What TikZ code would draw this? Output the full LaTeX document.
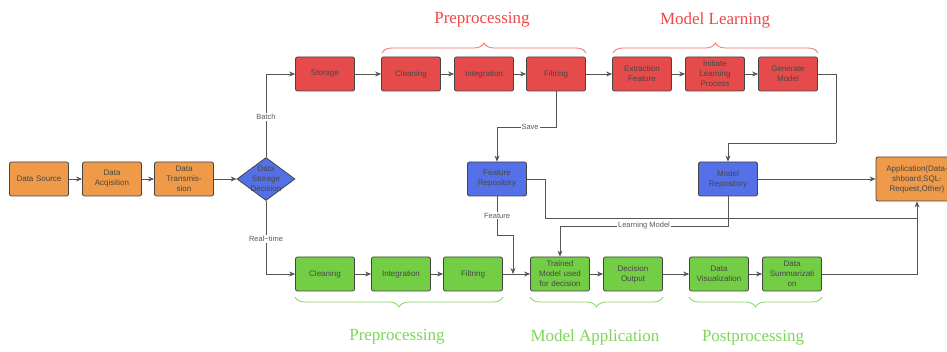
\documentclass[tikz,border=0pt]{standalone}
\usepackage{fontspec}
\setmainfont{Liberation Sans}
\newfontfamily\titlefont{Liberation Serif}
\usetikzlibrary{shapes.geometric,arrows.meta,decorations.pathreplacing}
\definecolor{orangebox}{HTML}{EE9A48}
\definecolor{redbox}{HTML}{E54B4B}
\definecolor{bluebox}{HTML}{5470E6}
\definecolor{greenbox}{HTML}{73CD45}
\definecolor{redtitle}{HTML}{F04848}
\definecolor{greentitle}{HTML}{80D65A}
\definecolor{linegray}{HTML}{555555}
\definecolor{boxline}{HTML}{454545}
\tikzset{
  box/.style={rectangle, rounded corners=2pt, draw=boxline, line width=0.8pt,
    minimum width=59pt, minimum height=34pt, text width=56pt, align=center,
    inner sep=0pt, font=\fontsize{8}{10}\selectfont, text=black!72},
  obox/.style={box, fill=orangebox},
  rbox/.style={box, fill=redbox},
  bbox/.style={box, fill=bluebox},
  gbox/.style={box, fill=greenbox},
  arr/.style={draw=linegray, line width=0.8pt, -{Stealth[length=6pt,width=5pt]}},
  conn/.style={draw=linegray, line width=0.8pt},
  lbl/.style={fill=white, inner sep=1pt, font=\fontsize{7.5}{9}\selectfont, text=black!65},
  ttl/.style={font=\titlefont\fontsize{17}{20}\selectfont},
  rbrace/.style={draw=redtitle!80, line width=0.8pt, decorate, decoration={brace, amplitude=10pt}},
  gbrace/.style={draw=greentitle, line width=0.8pt, decorate, decoration={brace, amplitude=10pt, mirror}},
}
\begin{document}
\begin{tikzpicture}[x=1pt, y=-1pt]
\clip (0,0) rectangle (947,352);
\fill[white] (0,0) rectangle (947,352);
% left chain
\node[obox] (src) at (39,179) {Data Source};
\node[obox] (acq) at (112,179) {Data\\Acqisition};
\node[obox] (trans) at (184,179) {Data\\Transmis-\\sion};
\node[diamond, draw=boxline, line width=0.8pt, fill=bluebox, aspect=1.35, inner sep=0pt,
  minimum width=58pt, minimum height=43pt] (dec) at (266,179) {};
\node[font=\fontsize{8}{10}\selectfont, text=black!72, align=center] (dect) at (266,179) {Data\\Storage\\Decision};
% top row
\node[rbox] (stor) at (325,74) {Storage};
\node[rbox] (tclean) at (411,74) {Cleaning};
\node[rbox] (tint) at (484,74) {Integration};
\node[rbox] (tfilt) at (556,74) {Filtring};
\node[rbox] (ext) at (642,74) {Extraction\\Feature};
\node[rbox] (init) at (715,74) {Initiate\\Learning\\Process};
\node[rbox] (gen) at (788,74) {Generate\\Model};
% repositories and application
\node[bbox] (frep) at (497,179) {Feature\\Repository};
\node[bbox] (mrep) at (728,179) {Model\\Repository};
\node[obox, minimum width=82pt, text width=80pt, minimum height=44pt] (app) at (917,179) {Application(Data-\\shboard,SQL-\\Request,Other)};
% bottom row
\node[gbox] (bclean) at (325,274) {Cleaning};
\node[gbox] (bint) at (401,274) {Integration};
\node[gbox] (bfilt) at (473,274) {Filtring};
\node[gbox] (tmod) at (560,274) {Trained\\Model used\\for decision};
\node[gbox] (dout) at (633,274) {Decision\\Output};
\node[gbox] (vis) at (719,274) {Data\\Visualization};
\node[gbox] (summ) at (792,274) {Data\\Summarizati\\on};
% titles
\node[ttl, text=redtitle] (t1) at (482,20) {Preprocessing};
\node[ttl, text=redtitle] (t2) at (715,20) {Model Learning};
\node[ttl, text=greentitle] (t3) at (397,337) {Preprocessing};
\node[ttl, text=greentitle] (t4) at (595,337) {Model Application};
\node[ttl, text=greentitle] (t5) at (753,338) {Postprocessing};
% braces
\draw[rbrace] (382,53) -- (586,53);
\draw[rbrace] (613,53) -- (818,53);
\draw[gbrace] (295,297) -- (503,297);
\draw[gbrace] (530,297) -- (663,297);
\draw[gbrace] (689,297) -- (822,297);
% coordinates
\coordinate (g1) at (836,143);
\coordinate (fj) at (513,274);
\coordinate (fk) at (513,235);
\coordinate (mk) at (560,226);
\coordinate (fr) at (545,218);
\coordinate (fr2) at (917,218);
% connectors
\draw[arr] (src) -- (acq);
\draw[arr] (acq) -- (trans);
\draw[arr] (trans) -- (dec);
\draw[arr] (dec.north) |- node[lbl, pos=0.24]{Batch} (stor);
\draw[arr] (dec.south) |- node[lbl, pos=0.26]{Real{\textminus}time} (bclean);
\draw[arr] (stor) -- (tclean);
\draw[arr] (tclean) -- (tint);
\draw[arr] (tint) -- (tfilt);
\draw[arr] (tfilt) -- (ext);
\draw[arr] (ext) -- (init);
\draw[arr] (init) -- (gen);
\draw[arr] (tfilt.south) -- ++(0,36) -| node[lbl, pos=0.22]{Save} (frep.north);
\draw[conn] (gen.east) -| (g1);
\draw[arr] (g1) -| (mrep.north);
\draw[arr] (mrep) -- (app);
\draw[conn] (frep.east) -| (fr) -- (fr2);
\draw[conn] (frep.south) |- node[lbl, pos=0.25]{Feature} (fk);
\draw[arr] (fk) -- (fj);
\draw[conn] (mrep.south) |- node[lbl, pos=0.75]{Learning Model} (mk);
\draw[arr] (mk) -- (tmod.north);
\draw[arr] (bclean) -- (bint);
\draw[arr] (bint) -- (bfilt);
\draw[arr] (bfilt) -- (tmod);
\draw[arr] (tmod) -- (dout);
\draw[arr] (dout) -- (vis);
\draw[arr] (vis) -- (summ);
\draw[arr] (summ.east) -| (app.south);
\end{tikzpicture}
\end{document}
